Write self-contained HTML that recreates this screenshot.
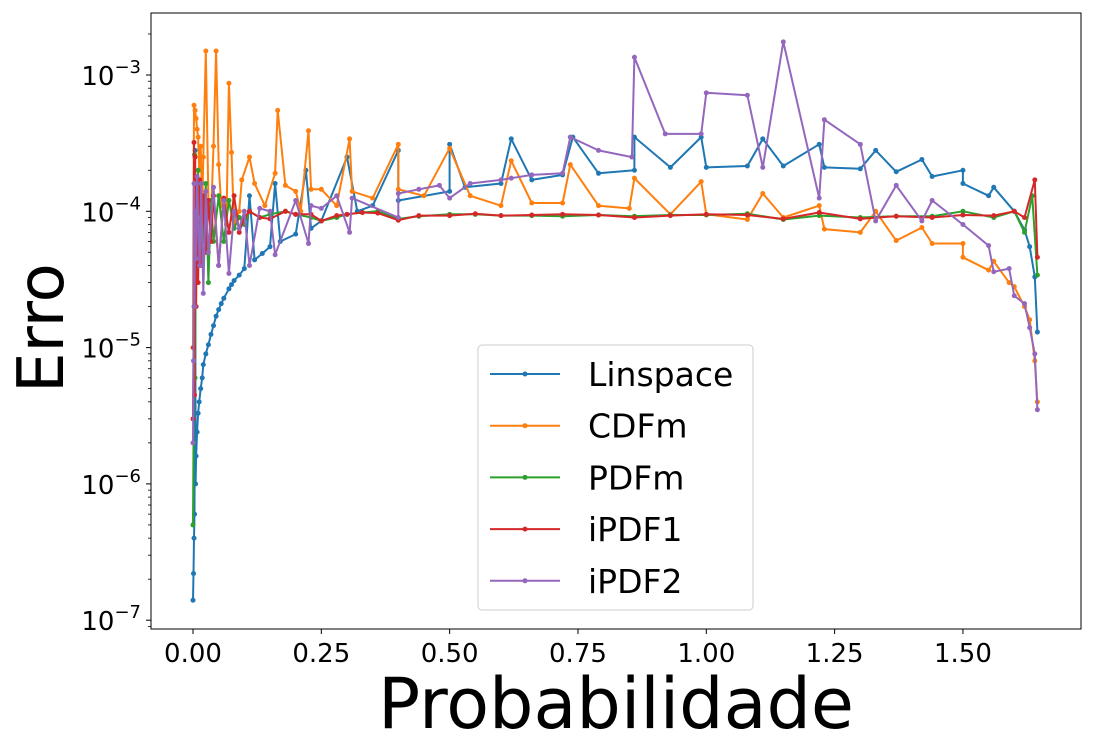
<!DOCTYPE html>
<html><head><meta charset="utf-8">
<style>
body{margin:0;background:#fff;}
svg{display:block;font-family:"DejaVu Sans","Liberation Sans",sans-serif;}
</style></head>
<body>
<svg id="chart" width="1094" height="750" viewBox="0 0 1094 750" xmlns="http://www.w3.org/2000/svg">
<g id="plot"></g>
</svg>
<script>
const xTickLabels = ["0.00","0.25","0.50","0.75","1.00","1.25","1.50"];
const xTickValues = [0,0.25,0.5,0.75,1.0,1.25,1.5];
const yTickExps = [-7,-6,-5,-4,-3];
const seriesNames = ["Linspace","CDFm","PDFm","iPDF1","iPDF2"];
const seriesColors = ["#1f77b4","#ff7f0e","#2ca02c","#d62728","#9467bd"];

const linX = [0,0.001,0.002,0.003,0.004,0.005,0.006,0.008,0.01,0.012,0.015,0.018,0.02,0.025,0.03,0.035,0.04,0.045,0.05,0.055,0.06,0.07,0.075,0.08,0.09,0.1,0.11,0.12,0.135,0.15,0.16,0.17,0.2,0.22,0.23,0.25,0.3,0.32,0.35,0.4,0.4,0.5,0.5,0.53,0.6,0.62,0.66,0.72,0.74,0.79,0.86,0.86,0.93,0.99,1.0,1.08,1.11,1.15,1.22,1.23,1.3,1.33,1.37,1.42,1.44,1.5,1.5,1.55,1.56,1.6,1.62,1.63,1.64,1.645];
const linY = [1.4e-7,2.2e-7,4e-7,6e-7,2.8e-4,1e-6,1.6e-6,2.4e-6,3.3e-6,4e-6,5e-6,6e-6,7.5e-6,9e-6,1.05e-5,1.25e-5,1.45e-5,1.7e-5,1.9e-5,2.1e-5,2.3e-5,2.7e-5,2.9e-5,3.1e-5,3.4e-5,3.8e-5,1.3e-4,4.4e-5,4.9e-5,5.5e-5,1.6e-4,6e-5,6.8e-5,2e-4,7.5e-5,8.5e-5,2.5e-4,1e-4,1.1e-4,2.8e-4,1.2e-4,1.4e-4,3.1e-4,1.5e-4,1.6e-4,3.4e-4,1.7e-4,1.85e-4,3.5e-4,1.9e-4,2e-4,3.5e-4,2.1e-4,3.5e-4,2.1e-4,2.15e-4,3.4e-4,2.15e-4,3.1e-4,2.1e-4,2.05e-4,2.8e-4,1.95e-4,2.4e-4,1.8e-4,2e-4,1.6e-4,1.3e-4,1.5e-4,1e-4,7.3e-5,5.5e-5,3.3e-5,1.3e-5];

const cdfX = [0,0.002,0.004,0.006,0.008,0.01,0.012,0.015,0.018,0.02,0.025,0.03,0.035,0.04,0.045,0.05,0.055,0.06,0.065,0.07,0.075,0.08,0.09,0.095,0.11,0.12,0.14,0.16,0.165,0.18,0.2,0.21,0.225,0.23,0.25,0.28,0.305,0.31,0.35,0.4,0.4,0.45,0.5,0.54,0.6,0.62,0.66,0.72,0.735,0.79,0.85,0.86,0.93,0.99,1.0,1.08,1.11,1.15,1.22,1.23,1.3,1.33,1.37,1.42,1.44,1.5,1.5,1.55,1.56,1.59,1.6,1.62,1.63,1.64,1.645];
const cdfY = [1e-5,6e-4,5.5e-4,4.8e-4,4e-4,3.5e-4,2e-4,3e-4,1e-4,2.5e-4,1.5e-3,1.2e-4,9e-5,3e-4,1.5e-3,2.2e-4,1.1e-4,1e-4,8e-5,8.7e-4,2.7e-4,8e-5,1e-4,1.7e-4,2.5e-4,1.6e-4,1.1e-4,1.9e-4,5.5e-4,1.55e-4,1.4e-4,1e-4,3.9e-4,1.45e-4,1.45e-4,1.1e-4,3.4e-4,1.4e-4,1.25e-4,3.1e-4,1.45e-4,1.3e-4,2.9e-4,1.3e-4,1.1e-4,2.35e-4,1.15e-4,1.15e-4,2.2e-4,1.1e-4,1.05e-4,1.75e-4,9.5e-5,1.65e-4,9.5e-5,8.7e-5,1.35e-4,9e-5,1.1e-4,7.4e-5,7e-5,1e-4,6.1e-5,7.6e-5,5.8e-5,5.8e-5,4.6e-5,3.7e-5,4.3e-5,3e-5,2.8e-5,2e-5,1.6e-5,8e-6,4e-6];

const pdfX = [0,0.001,0.002,0.003,0.004,0.006,0.008,0.01,0.013,0.016,0.02,0.025,0.03,0.035,0.04,0.05,0.06,0.07,0.08,0.09,0.1,0.11,0.13,0.15,0.18,0.2,0.23,0.25,0.28,0.3,0.33,0.36,0.4,0.44,0.5,0.55,0.6,0.66,0.72,0.79,0.86,0.93,1.0,1.08,1.15,1.22,1.3,1.37,1.44,1.5,1.56,1.6,1.62,1.635,1.645];
const pdfY = [5e-7,2e-6,2e-5,2.6e-4,6e-6,1.5e-4,4e-5,2e-4,5e-5,1.3e-4,6e-5,1.6e-4,3e-5,1.2e-4,6e-5,1.3e-4,6e-5,1.2e-4,7.5e-5,9e-5,8e-5,1e-4,9e-5,9.5e-5,1e-4,9.5e-5,9e-5,8.5e-5,9e-5,9.5e-5,9.8e-5,1e-4,8.8e-5,9.2e-5,9.5e-5,9.5e-5,9.3e-5,9.3e-5,9.2e-5,9.4e-5,9.2e-5,9.4e-5,9.4e-5,9.6e-5,8.7e-5,9.3e-5,9e-5,9.2e-5,9.2e-5,1e-4,9e-5,1e-4,7e-5,1.3e-4,3.4e-5];

const ip1X = [0,0.001,0.002,0.003,0.004,0.006,0.008,0.01,0.013,0.016,0.02,0.025,0.03,0.035,0.04,0.05,0.06,0.07,0.08,0.09,0.1,0.11,0.13,0.15,0.18,0.2,0.23,0.25,0.28,0.3,0.33,0.36,0.4,0.44,0.5,0.55,0.6,0.66,0.72,0.79,0.86,0.93,1.0,1.08,1.15,1.22,1.3,1.37,1.44,1.5,1.56,1.6,1.62,1.64,1.645];
const ip1Y = [3e-6,1e-5,3.2e-4,4.5e-6,2.5e-4,2e-5,1.2e-4,3e-5,1.7e-4,4e-5,1.3e-4,5e-5,1.2e-4,6e-5,1.3e-4,4e-5,1.25e-4,7e-5,1.3e-4,7e-5,9e-5,1e-4,9e-5,8.8e-5,1e-4,9.5e-5,9.5e-5,8.5e-5,9.3e-5,9.5e-5,9.8e-5,9.7e-5,8.6e-5,9.3e-5,9.3e-5,9.6e-5,9.3e-5,9.4e-5,9.5e-5,9.4e-5,9e-5,9.3e-5,9.5e-5,9.4e-5,8.8e-5,9.8e-5,8.8e-5,9.2e-5,9e-5,9.4e-5,9.3e-5,1e-4,9e-5,1.7e-4,4.6e-5];

const ip2X = [0,0.001,0.002,0.003,0.004,0.006,0.008,0.01,0.013,0.016,0.02,0.025,0.03,0.04,0.05,0.06,0.07,0.08,0.09,0.1,0.11,0.13,0.15,0.16,0.2,0.225,0.23,0.25,0.28,0.305,0.31,0.4,0.4,0.44,0.48,0.5,0.54,0.6,0.62,0.66,0.72,0.735,0.79,0.855,0.86,0.92,0.99,1.0,1.08,1.11,1.15,1.22,1.23,1.3,1.33,1.37,1.42,1.44,1.5,1.55,1.56,1.59,1.6,1.62,1.63,1.64,1.645];
const ip2Y = [2e-6,8e-6,1.6e-4,2e-5,1e-4,4.5e-5,1.8e-4,9e-5,4e-5,1.6e-4,2.5e-5,1.4e-4,5e-5,1.5e-4,4e-5,1.2e-4,3.5e-5,1e-4,7.5e-5,1e-4,4e-5,1.05e-4,1e-4,4.8e-5,1.2e-4,5.8e-5,1.1e-4,1.05e-4,1.3e-4,7e-5,1.25e-4,9e-5,1.35e-4,1.45e-4,1.55e-4,1.25e-4,1.6e-4,1.7e-4,1.75e-4,1.85e-4,1.9e-4,3.5e-4,2.8e-4,2.5e-4,1.35e-3,3.7e-4,3.7e-4,7.4e-4,7.1e-4,2.1e-4,1.75e-3,1.25e-4,4.7e-4,3.1e-4,8.5e-5,1.55e-4,8.5e-5,1.2e-4,8e-5,5.6e-5,3.6e-5,3.8e-5,2.4e-5,2.1e-5,1.4e-5,9e-6,3.5e-6];

const allX = [linX,cdfX,pdfX,ip1X,ip2X];
const allY = [linY,cdfY,pdfY,ip1Y,ip2Y];

const L=151,R=1081,T=13,B=629;
const x0px=193, pxPerUnit=513.3;
const yTopPx=75, pxPerDecade=136.3;
function sx(v){return x0px+v*pxPerUnit;}
function sy(v){return yTopPx+(-3-Math.log10(v))*pxPerDecade;}

const svg=document.getElementById('chart');
const NS="http://www.w3.org/2000/svg";
function mk(tag,attrs,parent){const e=document.createElementNS(NS,tag);for(const k in attrs)e.setAttribute(k,attrs[k]);(parent||svg).appendChild(e);return e;}

const plot=document.getElementById('plot');
for(let s=0;s<5;s++){
  const g=mk('g',{},plot);
  
  
  const pts=allX[s].map((x,i)=>sx(x).toFixed(1)+','+sy(allY[s][i]).toFixed(1)).join(' ');
  const pl=mk('polyline',{points:pts,fill:'none',stroke:seriesColors[s],'stroke-width':2,'stroke-linejoin':'round'},g);
  
  
  allX[s].forEach((x,i)=>{
    const c=mk('circle',{cx:sx(x),cy:sy(allY[s][i]),r:2.5,fill:seriesColors[s]},g);
    
    
  });
}
const fr=mk('rect',{x:L,y:T,width:R-L,height:B-T,fill:'none',stroke:'#000','stroke-width':1});


xTickValues.forEach((v,i)=>{
  mk('line',{x1:sx(v),x2:sx(v),y1:B,y2:B+5,stroke:'#000'});
  const t=mk('text',{x:sx(v),y:B+33,'font-size':26,'text-anchor':'middle'});
  t.textContent=xTickLabels[i];
  
  
});
yTickExps.forEach(e=>{
  const y=sy(Math.pow(10,e));
  mk('line',{x1:L-5,x2:L,y1:y,y2:y,stroke:'#000'});
  const t=mk('text',{x:L-10,y:y+10,'font-size':26,'text-anchor':'end'});
  t.innerHTML='10<tspan dy="-12" font-size="18">\u2212'+(-e)+'</tspan>';
  
  
  for(let m=2;m<10;m++){
    const ym=sy(m*Math.pow(10,e));
    if(ym>T&&ym<B) mk('line',{x1:L-3,x2:L,y1:ym,y2:ym,stroke:'#000','stroke-width':0.8});
  }
});
for(let m=2;m<10;m++){const ym=sy(m*1e-8);if(ym>T&&ym<B)mk('line',{x1:L-3,x2:L,y1:ym,y2:ym,stroke:'#000','stroke-width':0.8});}
const xt=mk('text',{x:616,y:728,'font-size':70,'text-anchor':'middle'});
xt.textContent='Probabilidade';


const yt=mk('text',{x:0,y:0,'font-size':64,'text-anchor':'middle',transform:'translate(63,328) rotate(-90)'});
yt.textContent='Erro';


const lg=mk('g',{});


mk('rect',{x:478,y:345,width:275,height:265,rx:4,fill:'#fff','fill-opacity':0.8,stroke:'#ccc'},lg);
seriesNames.forEach((n,i)=>{
  const y=374+i*51.7;
  const e=mk('g',{},lg);
  
  
  mk('line',{x1:490,x2:560,y1:y,y2:y,stroke:seriesColors[i],'stroke-width':2},e);
  mk('circle',{cx:525,cy:y,r:2.5,fill:seriesColors[i]},e);
  const t=mk('text',{x:588,y:y+12,'font-size':33},e);
  t.textContent=n;
});
</script>
</body></html>
